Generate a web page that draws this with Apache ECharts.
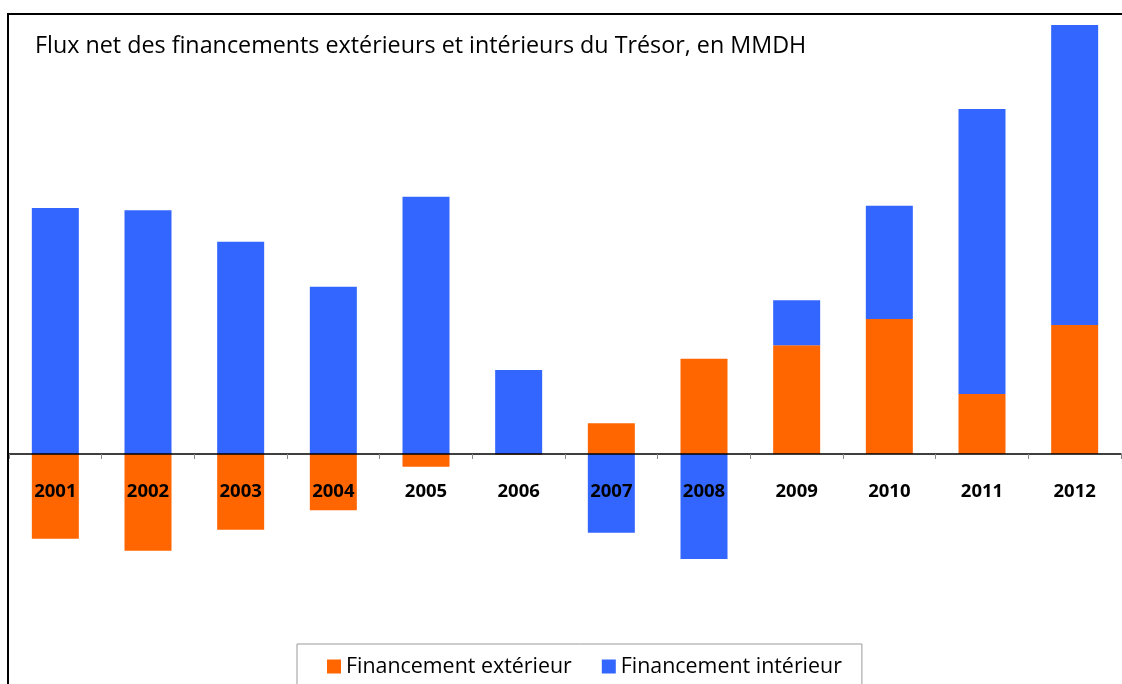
<!DOCTYPE html>
<html>
<head>
<meta charset="utf-8">
<script src="https://cdn.jsdelivr.net/npm/echarts@6/dist/echarts.min.js"></script>
<style>
  html, body { margin: 0; padding: 0; background: #fff; }
  #chart { width: 1122px; height: 684px; }
</style>
</head>
<body>
<div id="chart"></div>
<script>
// données (MMDH, estimées)
const years = ['2001', '2002', '2003', '2004', '2005', '2006', '2007', '2008', '2009', '2010', '2011', '2012']
const exterieur = [-11.3, -12.9, -10.1, -7.5, -1.7, -0.1, 4.1, 12.7, 14.5, 18.0, 8.0, 17.2]
const interieur = [32.8, 32.5, 28.3, 22.3, 34.3, 11.2, -10.5, -14.0, 6.0, 15.1, 38.0, 40.0]

const chart = echarts.init(document.getElementById('chart'))

const option = {
  animation: false,
  backgroundColor: '#fff',
  textStyle: { fontFamily: 'Open Sans' },
  title: {
    text: 'Flux net des financements extérieurs et intérieurs du Trésor, en MMDH',
    left: 30,
    top: 30,
    textStyle: { fontSize: 23.3, fontWeight: 'normal', color: '#000', fontFamily: 'Open Sans' }
  },
  legend: {
    left: 297,
    top: 644,
    padding: [12, 20, 20, 30],
    borderColor: '#999',
    borderWidth: 1,
    icon: 'rect',
    itemWidth: 14,
    itemHeight: 14,
    itemGap: 30,
    textStyle: { fontSize: 21.4, color: '#000', fontFamily: 'Open Sans' },
    data: ['Financement extérieur', 'Financement intérieur']
  },
  grid: { left: 9, right: 1, top: 19, bottom: 80 },
  xAxis: {
    type: 'category',
    data: years,
    z: 5,
    offset: -150, // l'axe est posé sur le zéro (y = 454)
    axisLine: { onZero: false, lineStyle: { color: '#000', width: 1.5 } },
    axisTick: { show: true, length: 5, inside: false, lineStyle: { color: '#888' } },
    axisLabel: { margin: 28, fontSize: 18.5, fontWeight: 'bold', color: '#000', fontFamily: 'Open Sans' }
  },
  yAxis: {
    type: 'value',
    min: -20,
    max: 58,
    show: false,
    splitLine: { show: false }
  },
  series: [
    {
      name: 'Financement extérieur',
      type: 'bar',
      stack: 'flux',
      barWidth: 47,
      itemStyle: { color: '#ff6600' },
      data: exterieur
    },
    {
      name: 'Financement intérieur',
      type: 'bar',
      stack: 'flux',
      barWidth: 47,
      itemStyle: { color: '#3366ff' },
      data: interieur
    }
  ],
  graphic: [
    {
      type: 'rect',
      shape: { x: 8, y: 14, width: 1140, height: 700 },
      style: { fill: 'none', stroke: '#000', lineWidth: 2 },
      z: 10
    }
  ]
}

chart.setOption(option)
</script>
</body>
</html>
